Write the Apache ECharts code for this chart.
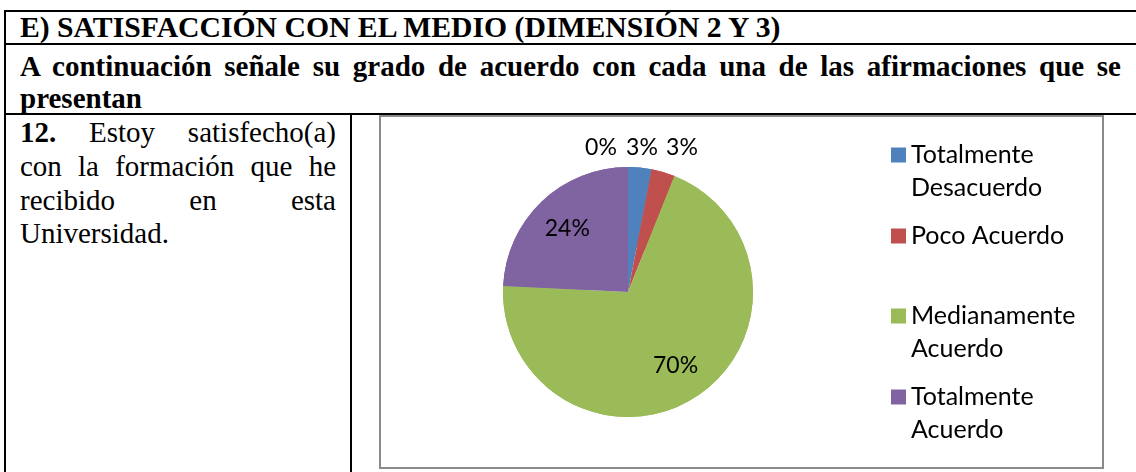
<!DOCTYPE html>
<html>
<head>
<meta charset="utf-8">
<script src="https://cdn.jsdelivr.net/npm/echarts@6/dist/echarts.min.js"></script>
<style>
  html, body { margin: 0; padding: 0; background: #fff; }
  #page { position: relative; width: 1136px; height: 472px; overflow: hidden; background: #fff; }
  .ln { position: absolute; background: #000; }
  .t { position: absolute; font-family: "Liberation Serif", "Times New Roman", serif; color: #000; font-size: 29px; line-height: 33px; white-space: nowrap; }
  .b { font-weight: bold; }
  .j { text-align: justify; text-align-last: justify; }
  #frame { position: absolute; left: 379px; top: 115px; width: 721px; height: 350px; border: 2px solid #8a8a8a; }
  #chart { position: absolute; left: 0; top: 0; width: 1136px; height: 472px; }
</style>
</head>
<body>
<div id="page">
  <div class="ln" style="left:4px;top:10px;width:1132px;height:2px"></div>
  <div class="ln" style="left:4px;top:43px;width:1132px;height:2px"></div>
  <div class="ln" style="left:4px;top:113px;width:1132px;height:2px"></div>
  <div class="ln" style="left:4px;top:10px;width:2px;height:462px"></div>
  <div class="ln" style="left:350px;top:113px;width:2px;height:359px"></div>

  <div class="t b" style="left:20px;top:11px;font-size:29.7px">E) SATISFACCIÓN CON EL MEDIO (DIMENSIÓN 2 Y 3)</div>
  <div class="t b j" style="left:20px;top:50px;width:1101px">A continuación señale su grado de acuerdo con cada una de las afirmaciones que se</div>
  <div class="t b" style="left:20px;top:82px">presentan</div>

  <div class="t j" style="left:20px;top:116px;width:316px"><b>12.</b> Estoy satisfecho(a)</div>
  <div class="t j" style="left:20px;top:150px;width:316px">con la formación que he</div>
  <div class="t j" style="left:20px;top:184px;width:316px">recibido en esta</div>
  <div class="t" style="left:20px;top:217px">Universidad.</div>

  <div id="frame"></div>
  <div id="chart"></div>
</div>
<script>
// respuestas (n = 33); el primer valor es la categoria sin nombre que sale con 0%
var categories = ['', 'Totalmente Desacuerdo', 'Poco Acuerdo', 'Medianamente Acuerdo', 'Totalmente Acuerdo'];
var counts = [0, 1, 1, 23, 8];
var colors = ['#4F81BD', '#4F81BD', '#C0504D', '#9BBB59', '#8064A2'];
var legendNames = ['Totalmente Desacuerdo', 'Poco Acuerdo', 'Medianamente Acuerdo', 'Totalmente Acuerdo'];
var legendText = ['\nTotalmente\nDesacuerdo', 'Poco Acuerdo', '\nMedianamente\nAcuerdo', '\nTotalmente\nAcuerdo'];

var center = [628, 292];
var R = 125;
// etiquetas pequeñas arriba del pastel (como las deja Excel)
var smallLabelPos = { 0: [601, 148], 1: [642, 148], 2: [682, 148] };
var legendIcon = [155, 236, 316, 397];

var pieData = [];
for (var i = 0; i < categories.length; i++) {
  pieData.push({ name: categories[i], value: counts[i], itemStyle: { color: colors[i] } });
}

var legends = [];
for (var k = 0; k < legendNames.length; k++) {
  var twoLines = legendText[k].indexOf('\n') === 0;
  legends.push({
    orient: 'vertical',
    left: 891,
    top: legendIcon[k] - (twoLines ? 49.5 : 16.5),
    padding: 0,
    itemWidth: 15,
    itemHeight: 15,
    icon: 'rect',
    selectedMode: false,
    data: [legendNames[k]],
    formatter: (function (txt) { return function () { return txt; }; })(legendText[k]),
    textStyle: { fontFamily: 'Lato', fontSize: 25, lineHeight: 33, color: '#000' }
  });
}

var chart = echarts.init(document.getElementById('chart'));
chart.setOption({
  animation: false,
  legend: legends,
  series: [
    {
      type: 'pie',
      center: center,
      radius: [0, R],
      startAngle: 90,
      clockwise: true,
      label: { show: false },
      labelLine: { show: false },
      itemStyle: { borderWidth: 0 },
      emphasis: { disabled: true },
      data: pieData
    },
    {
      // misma serie, solo para colocar las etiquetas a ~0.68 del radio
      type: 'pie',
      silent: true,
      center: center,
      radius: [R * 0.36, R],
      startAngle: 90,
      clockwise: true,
      avoidLabelOverlap: false,
      itemStyle: { color: 'rgba(0,0,0,0)', borderWidth: 0 },
      emphasis: { disabled: true },
      labelLine: { show: false },
      label: {
        show: true,
        position: 'inside',
        fontFamily: 'Lato',
        fontSize: 23,
        color: '#000',
        formatter: function (p) { return Math.round(p.percent) + '%'; }
      },
      labelLayout: function (p) {
        var pos = smallLabelPos[p.dataIndex];
        if (pos) {
          return { x: pos[0], y: pos[1], align: 'center', verticalAlign: 'middle' };
        }
        return {};
      },
      data: pieData
    }
  ]
});
</script>
</body>
</html>
